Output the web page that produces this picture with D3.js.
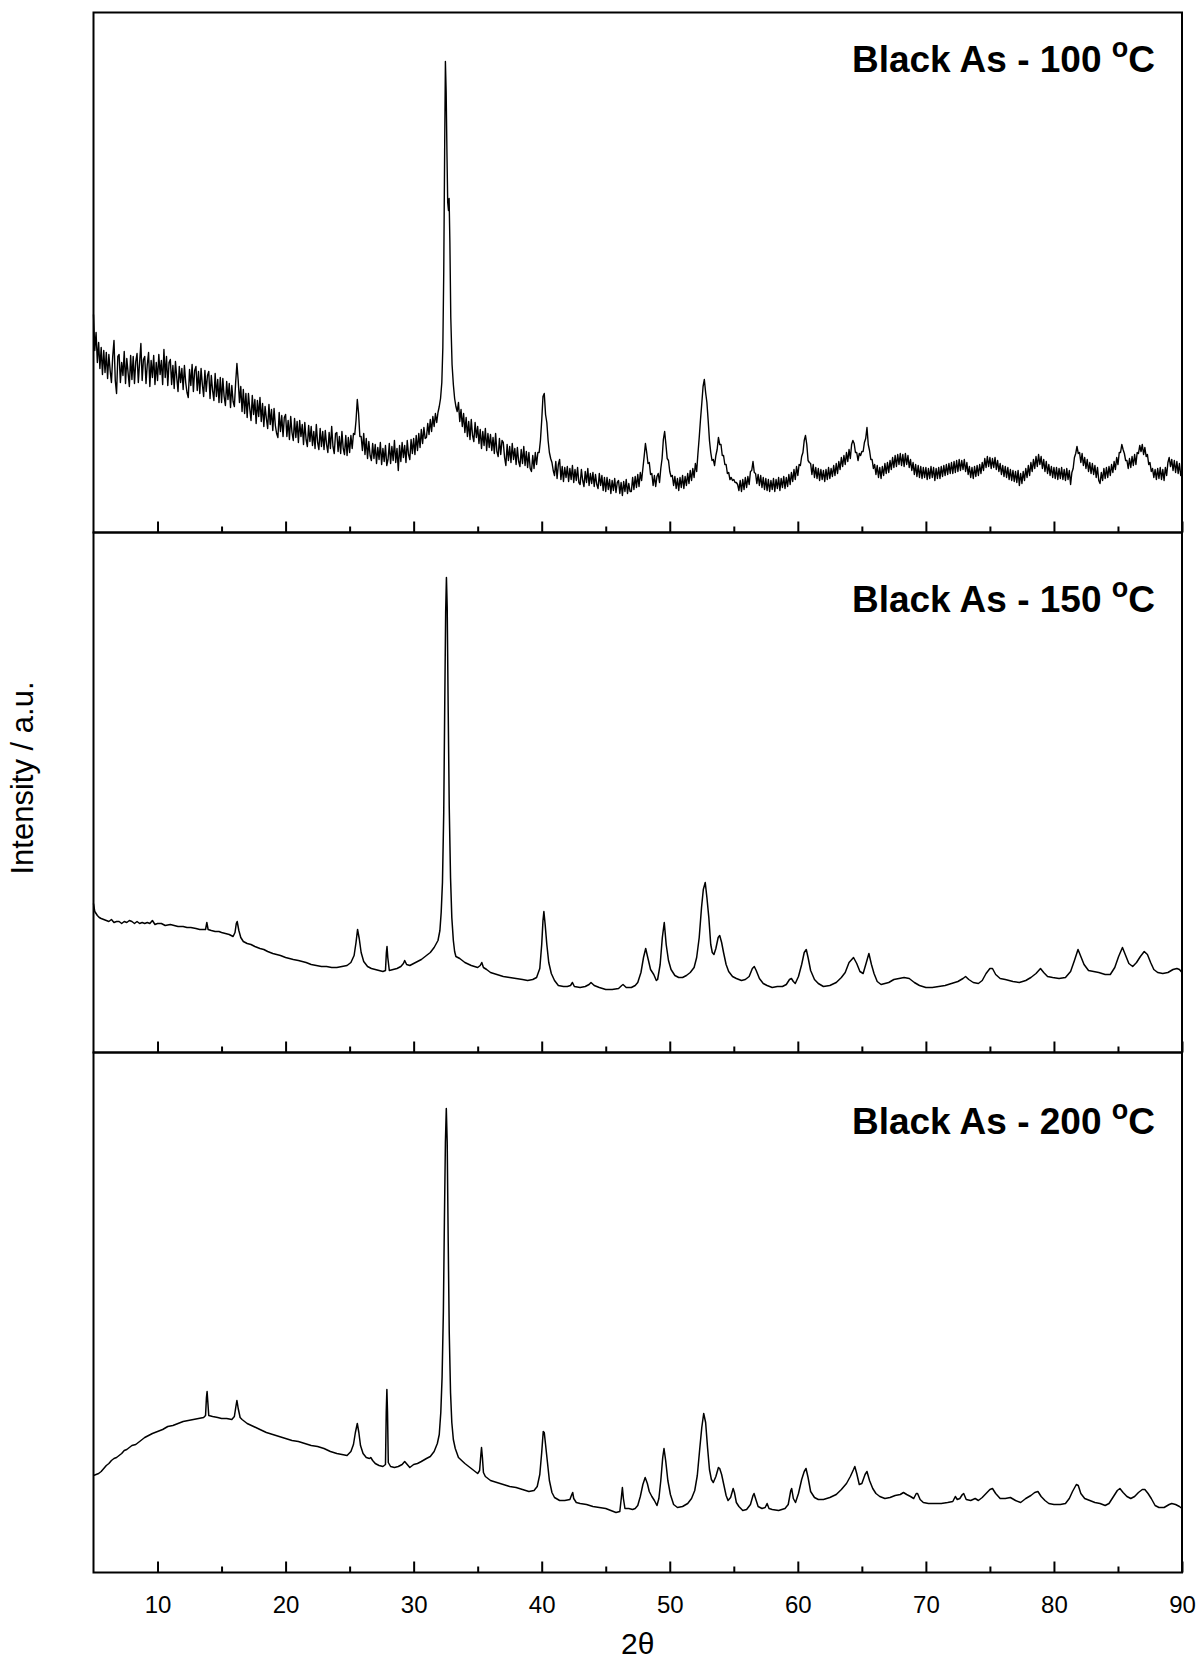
<!DOCTYPE html>
<html><head><meta charset="utf-8">
<script src="https://cdn.jsdelivr.net/npm/d3@7"></script>
<style>body{margin:0;background:#fff} svg{display:block}</style>
</head><body><svg id="c" width="1201" height="1662"></svg>
<script>
const xTicks = [10,20,30,40,50,60,70,80,90];
const xMinorTicks = [15,25,35,45,55,65,75,85];
const tickLabels = ["10","20","30","40","50","60","70","80","90"];
const temps = ["100","150","200"];

// Black As - 100 °C : 0.1° grid from 5.0 to 46.9
const p100aStart = 5, p100aStep = 0.1;
const p100a = [
218,182,200,170,190,164,185,158,182,160,
180,154,178,162,150,176,192,152,139,176,
178,150,170,157,181,149,174,160,146,177,
153,176,149,171,179,150,170,189,152,173,
176,149,168,180,146,172,155,177,148,170,
152,178,158,172,148,183,155,176,147,170,
173,148,167,144,171,155,141,166,150,164,
143,167,150,140,135,163,147,168,141,162,
166,142,161,139,164,148,136,162,141,157,
161,134,157,142,132,159,136,153,130,155,
130,154,136,127,151,133,149,125,147,131,
126,150,169,152,130,146,121,143,119,139,
115,139,124,112,137,118,133,109,132,116,
135,111,129,106,126,114,104,128,108,123,
102,124,107,99,95,120,101,117,96,115,
118,96,112,93,116,100,92,114,95,111,
90,112,96,108,88,110,93,86,107,91,
106,87,101,84,108,90,83,104,86,101,
83,102,88,80,100,84,106,86,79,99,
100,81,96,79,101,84,78,97,77,95,
80,97,84,99,98,112,133,119,96,96,
82,99,78,94,74,91,77,72,89,74,
88,69,85,73,90,68,84,71,87,67,
73,89,69,86,72,92,70,84,62,87,
71,90,75,87,70,92,78,73,93,79,
94,78,97,82,99,85,103,89,105,94,
95,109,98,113,101,116,106,119,110,120,
126,134,150,260,471,380,330,334,215,168,
168,148,134,126,121,130,111,123,106,119,
100,115,96,111,93,113,97,91,110,95,
106,89,103,84,101,87,104,82,99,85,
98,82,95,79,99,81,76,94,78,92,
90,75,67,88,72,86,70,89,73,84,
68,85,71,66,83,69,86,67,81,65,
80,64,61,77,64,80,68,80,80,92,
112,136,139,118,110,92,80,74,70,62,
57,71,54,68,73,53,66,51,65,55,
66,51,64,53,67,50,63,52,65,50,
48,63,52,46,61,50,64,47,59,49,
60,46,58,48,44,59,47,57,42,55,
41,55,43,53,39,52,42,54,40,50,
52,39,50,37,51,41,53,39,49,41
];
// Black As - 100 °C : 0.1° grid from 47.0 to 90.0
const p100bStart = 47, p100bStep = 0.1;
const p100b = [
41,55,43,56,45,58,46,60,52,64,
76,89,80,69,70,58,59,47,57,46,
56,59,50,64,74,93,101,88,74,72,
61,56,57,47,56,44,54,42,55,45,
57,44,56,47,59,49,62,52,64,55,
69,61,79,95,113,129,146,153,140,130,
112,92,80,72,73,67,77,83,95,88,
88,77,77,68,68,59,60,53,55,52,
53,50,50,48,42,52,41,53,43,55,
45,56,48,61,62,71,60,59,49,58,
47,57,45,55,43,54,42,53,41,52,
43,54,41,53,44,55,42,54,45,56,
44,55,46,58,48,60,51,63,53,66,
57,68,67,76,80,92,97,88,72,70,
69,58,68,55,65,54,64,52,63,53,
62,51,63,53,65,54,64,56,67,57,
69,59,71,63,75,66,77,68,80,71,
83,74,88,92,89,80,80,72,79,77,
81,81,90,94,105,88,82,73,73,64,
68,58,67,55,65,54,66,57,69,59,
70,60,72,63,75,65,77,66,78,68,
79,67,78,66,79,68,77,65,73,62,
70,58,68,56,67,55,66,54,65,55,
65,53,64,54,66,55,65,52,64,54,
65,54,66,56,67,57,68,58,69,59,
70,59,71,60,72,61,73,62,72,63,
73,61,70,58,66,55,65,54,66,56,
67,57,68,59,70,62,74,65,76,66,
75,64,74,65,75,63,72,61,69,58,
67,56,66,55,65,53,63,52,62,51,
61,50,62,47,59,49,61,52,64,55,
67,57,70,61,73,64,76,66,78,68,
76,64,73,61,71,59,68,57,66,55,
65,54,65,53,64,54,65,53,63,52,
64,53,62,48,60,64,75,79,86,79,
80,70,79,67,75,64,73,61,70,59,
69,58,67,55,65,52,49,60,52,64,
54,65,55,66,57,68,60,71,63,75,
68,80,80,88,83,79,72,72,64,74,
65,76,67,78,68,80,79,87,81,88,
78,85,76,78,68,70,61,64,55,63,
53,64,54,65,53,63,52,65,57,70,
75,66,73,62,72,60,71,59,69,57,
62
];
// finer reading of the main reflection (replaces grid in 31.9–33.3)
const p100Peak = [[31.9,120],[32.0,126],[32.1,134],[32.2,150],[32.28,185],[32.35,260],[32.42,380],[32.48,471],[32.54,440],[32.6,380],[32.66,330],[32.72,322],[32.77,334],[32.83,290],[32.9,215],[33.0,168],[33.1,148],[33.2,134],[33.3,126]];

const p150 = [
[5.0,149],[5.1,141],[5.2,139],[5.3,137],[5.45,135],[5.6,134],[5.8,133],[6.0,132],[6.2,131],[6.4,133],[6.6,130],[6.8,131],[7.0,131],[7.2,129],[7.4,131],[7.6,130],[7.8,132],[8.0,131],[8.2,129],[8.4,131],[8.6,129],[8.8,130],[9.0,129],[9.2,130],[9.4,129],[9.6,132],[9.8,128],[10.0,129],[10.3,129],[10.6,127],[11.0,128],[11.3,127],[11.6,126],[12.0,126],[12.3,125],[12.6,125],[13.0,124],[13.3,123],[13.6,123],[13.75,123],[13.85,130],[13.95,123],[14.2,122],[14.5,121],[14.8,121],[15.0,120],[15.3,119],[15.6,118],[15.9,116],[16.05,120],[16.15,129],[16.22,131],[16.35,122],[16.5,115],[16.7,111],[17.0,109],[17.3,108],[17.6,106],[18.0,104],[18.3,103],[18.6,101],[19.0,99],[19.3,98],[19.6,97],[20.0,95],[20.3,94],[20.6,93],[21.0,92],[21.3,91],[21.6,90],[22.0,88],[22.4,87],[22.8,86],[23.2,86],[23.6,85],[24.0,85],[24.4,86],[24.8,87],[25.1,90],[25.35,97],[25.5,110],[25.62,123],[25.75,114],[25.9,100],[26.1,91],[26.4,86],[26.7,84],[27.0,83],[27.3,82],[27.6,81],[27.8,82],[27.87,100],[27.92,106],[27.98,95],[28.1,82],[28.4,83],[28.7,84],[29.0,86],[29.2,89],[29.3,92],[29.45,88],[29.7,87],[30.0,89],[30.3,91],[30.6,93],[31.0,97],[31.3,100],[31.6,105],[31.9,112],
[32.05,122],[32.15,140],[32.25,170],[32.35,240],[32.43,350],[32.5,440],[32.56,475],[32.62,445],[32.7,340],[32.78,245],[32.88,175],[32.98,135],[33.1,112],[33.2,101],
[33.3,96],[33.6,94],[34.0,90],[34.5,87],[35.0,85],[35.2,87],[35.32,90],[35.45,85],[35.7,83],[36.0,80],[36.5,78],[37.0,76],[37.5,75],[38.0,74],[38.5,73],[38.9,72],[39.3,73],[39.6,75],[39.85,84],[40.0,108],[40.1,132],[40.17,141],[40.27,128],[40.4,108],[40.55,90],[40.75,79],[41.0,72],[41.3,67],[41.7,66],[42.0,66],[42.25,67],[42.4,70],[42.55,66],[43.0,65],[43.4,66],[43.7,68],[43.85,70],[44.1,67],[44.5,65],[45.0,63],[45.5,63],[46.0,64],[46.25,67],[46.35,68],[46.6,65],[47.0,65],[47.3,67],
[47.5,70],[47.75,80],[47.95,95],[48.12,104],[48.3,94],[48.5,83],[48.75,78],[48.95,72],[49.05,73],[49.25,88],[49.42,115],[49.57,130],[49.72,108],[49.9,92],[50.1,83],[50.4,77],[50.7,75],[51.0,75],[51.3,77],[51.6,80],[51.9,85],[52.1,95],[52.3,115],[52.48,145],[52.62,163],[52.77,170],[52.9,155],[53.05,135],[53.2,108],[53.32,100],[53.45,98],[53.6,104],[53.78,115],[53.9,117],[54.05,110],[54.2,100],[54.4,88],[54.6,81],[54.9,76],[55.2,74],[55.6,72],[55.9,73],[56.2,76],[56.45,84],[56.6,86],[56.75,82],[57.0,74],[57.3,69],[57.6,67],[58.0,65],[58.4,66],[58.8,66],[59.1,68],[59.35,73],[59.5,74],[59.65,71],[59.8,69],[60.05,76],[60.3,88],[60.5,100],[60.66,103],[60.8,95],[61.0,82],[61.3,73],[61.6,69],[62.0,66],[62.5,67],[63.0,70],[63.4,75],[63.7,80],[64.0,90],[64.35,95],[64.6,89],[64.85,81],[65.1,79],[65.35,90],[65.55,99],[65.75,88],[65.95,79],[66.2,71],[66.5,68],[66.8,69],[67.1,70],[67.5,73],[67.9,74],[68.3,75],[68.7,74],[69.1,70],[69.5,67],[70.0,65],[70.5,65],[71.0,66],[71.5,67],[72.0,69],[72.5,71],[72.9,74],[73.1,76],[73.35,73],[73.7,70],[74.1,69],[74.4,72],[74.7,79],[75.0,84],[75.2,84],[75.45,78],[75.8,74],[76.2,73],[76.8,71],[77.3,70],[77.8,72],[78.2,75],[78.6,79],[78.95,84],[79.2,80],[79.5,76],[79.9,75],[80.4,74],[80.9,75],[81.3,81],[81.6,92],[81.88,103],[82.1,96],[82.35,88],[82.7,82],[83.1,81],[83.5,80],[84.0,78],[84.4,78],[84.75,85],[85.05,96],[85.35,105],[85.6,97],[85.85,89],[86.15,86],[86.45,90],[86.75,96],[87.05,101],[87.3,98],[87.55,90],[87.8,83],[88.1,80],[88.5,79],[88.9,80],[89.3,83],[89.6,84],[89.8,83],[90.0,80]
];

const p200 = [
[5.0,97],[5.2,98],[5.4,99],[5.6,101],[5.8,104],[6.0,107],[6.2,109],[6.4,112],[6.6,114],[6.8,115],[7.0,117],[7.2,119],[7.4,122],[7.6,123],[7.8,125],[8.0,127],[8.3,128],[8.6,131],[9.0,135],[9.3,137],[9.6,139],[10.0,141],[10.4,143],[10.8,146],[11.2,147],[11.6,149],[12.0,151],[12.4,152],[12.8,153],[13.2,154],[13.6,155],[13.75,157],[13.82,175],[13.87,181],[13.93,170],[14.0,157],[14.3,156],[14.7,155],[15.0,154],[15.4,154],[15.8,153],[16.0,156],[16.12,166],[16.2,172],[16.3,164],[16.45,155],[16.6,153],[17.0,149],[17.5,146],[18.0,143],[18.5,140],[19.0,138],[19.5,136],[20.0,134],[20.5,132],[21.0,131],[21.5,129],[22.0,127],[22.5,126],[23.0,124],[23.5,121],[24.0,119],[24.4,118],[24.8,117],[25.1,121],[25.3,128],[25.45,140],[25.6,149],[25.72,140],[25.85,127],[26.05,119],[26.3,115],[26.55,114],[26.65,115],[26.8,112],[27.0,109],[27.3,107],[27.6,106],[27.8,108],[27.86,160],[27.91,183],[27.96,160],[28.02,110],[28.2,106],[28.5,105],[28.8,106],[29.1,108],[29.3,111],[29.5,108],[29.7,105],[30.0,108],[30.3,109],[30.6,111],[31.0,114],[31.3,116],[31.6,121],[31.85,129],
[32.0,138],[32.12,160],[32.22,195],[32.32,260],[32.4,350],[32.48,430],[32.55,464],[32.62,430],[32.7,330],[32.78,240],[32.88,180],[32.98,150],[33.1,133],[33.25,124],
[33.5,115],[34.0,109],[34.5,104],[35.0,99],[35.15,102],[35.25,118],[35.3,125],[35.37,115],[35.45,100],[35.6,96],[36.0,92],[36.5,90],[37.0,88],[37.5,86],[38.0,85],[38.5,83],[39.0,81],[39.4,82],[39.65,86],[39.85,98],[40.0,120],[40.12,141],[40.2,140],[40.3,128],[40.45,110],[40.6,92],[40.8,80],[41.0,75],[41.4,72],[41.8,72],[42.2,73],[42.35,78],[42.42,80],[42.5,74],[42.7,70],[43.0,69],[43.5,68],[44.0,66],[44.5,65],[45.0,64],[45.4,62],[45.8,60],[46.1,61],[46.22,75],[46.3,85],[46.38,74],[46.5,64],[46.8,64],[47.1,63],[47.3,64],
[47.5,67],[47.7,76],[47.9,88],[48.08,95],[48.25,89],[48.4,81],[48.6,76],[48.8,72],[49.0,67],[49.15,74],[49.3,92],[49.45,115],[49.55,124],[49.68,112],[49.85,92],[50.05,78],[50.3,68],[50.6,65],[51.0,66],[51.4,69],[51.7,74],[51.95,82],[52.15,97],[52.35,125],[52.5,145],[52.65,159],[52.8,150],[52.95,125],[53.1,103],[53.25,93],[53.4,90],[53.6,96],[53.8,105],[53.9,104],[54.05,98],[54.2,89],[54.4,77],[54.55,72],[54.75,75],[54.95,84],[55.05,80],[55.2,70],[55.4,66],[55.7,62],[56.0,63],[56.3,68],[56.5,77],[56.58,79],[56.7,74],[56.9,66],[57.2,64],[57.45,65],[57.6,69],[57.75,64],[58.0,63],[58.5,62],[59.0,64],[59.25,68],[59.45,82],[59.52,84],[59.65,74],[59.82,70],[60.05,79],[60.3,93],[60.5,101],[60.64,104],[60.8,95],[61.0,81],[61.3,75],[61.6,73],[62.0,73],[62.5,75],[63.0,78],[63.4,83],[63.8,89],[64.1,96],[64.35,103],[64.45,106],[64.6,99],[64.8,88],[65.0,89],[65.25,98],[65.4,101],[65.6,92],[65.85,84],[66.1,79],[66.4,76],[66.8,74],[67.2,75],[67.6,77],[68.0,78],[68.25,80],[68.5,78],[68.8,76],[69.05,74],[69.25,79],[69.35,79],[69.55,73],[69.8,70],[70.2,69],[70.7,69],[71.2,69],[71.7,70],[72.1,71],[72.3,76],[72.45,73],[72.65,74],[72.85,78],[72.95,79],[73.15,73],[73.5,72],[73.85,74],[74.1,72],[74.4,75],[74.7,79],[75.0,83],[75.2,84],[75.45,79],[75.8,74],[76.2,74],[76.6,75],[77.0,72],[77.4,70],[77.8,74],[78.2,77],[78.5,80],[78.75,81],[79.0,76],[79.3,72],[79.6,69],[80.0,68],[80.5,68],[80.9,69],[81.2,74],[81.45,81],[81.75,88],[81.9,87],[82.1,79],[82.4,74],[82.8,72],[83.2,70],[83.6,69],[84.0,67],[84.3,69],[84.6,75],[84.95,82],[85.15,84],[85.4,80],[85.7,76],[86.0,74],[86.3,76],[86.6,80],[86.9,83],[87.1,83],[87.35,79],[87.6,74],[87.9,67],[88.2,65],[88.6,65],[89.0,68],[89.2,69],[89.5,68],[89.8,66],[90.0,64]
];

const FONT = "Arial, 'Liberation Sans', Helvetica, sans-serif";
const L = 93.5, R = 1182, TOP = 12.5, PH = 520;
const svg = d3.select("#c");
const x = d3.scaleLinear().domain([5, 90]).range([L, R]);

const gridA = p100a.map((v, i) => [+(p100aStart + i * p100aStep).toFixed(2), v]);
const gridB = p100b.map((v, i) => [+(p100bStart + i * p100bStep).toFixed(2), v]);
const s100 = gridA.concat(gridB)
  .filter(d => d[0] < 31.9 || d[0] > 33.3)
  .concat(p100Peak)
  .sort((a, b) => a[0] - b[0]);
const series = [s100, p150, p200];
const titleBase = [72, 612, 1134];

series.forEach((data, k) => {
  const t = TOP + k * PH, b = t + PH;
  const y = d3.scaleLinear().domain([0, 520]).range([b, t]);
  const g = svg.append("g");

  g.append("path").datum(data)
    .attr("d", d3.line().x(d => x(d[0])).y(d => y(d[1])))
    .attr("fill", "none").attr("stroke", "#000")
    .attr("stroke-width", k === 0 ? 1.4 : 1.5).attr("stroke-linejoin", "round");

  const major = d3.axisBottom(x).tickValues(xTicks).tickSizeInner(-11).tickSizeOuter(0)
    .tickPadding(23).tickFormat((d, i) => k === 2 ? tickLabels[i] : "");
  const ag = g.append("g").attr("transform", `translate(0,${b})`).call(major);
  ag.select(".domain").remove();
  ag.selectAll("line").attr("stroke", "#000").attr("stroke-width", 2);
  ag.selectAll("text").attr("font-family", FONT).attr("font-size", 24).attr("fill", "#000");

  const minor = d3.axisBottom(x).tickValues(xMinorTicks).tickSizeInner(-6).tickSizeOuter(0).tickFormat(() => "");
  const mg = g.append("g").attr("transform", `translate(0,${b})`).call(minor);
  mg.select(".domain").remove();
  mg.selectAll("line").attr("stroke", "#000").attr("stroke-width", 2);

  g.append("rect").attr("x", L).attr("y", t).attr("width", R - L).attr("height", PH)
    .attr("fill", "none").attr("stroke", "#000").attr("stroke-width", 2);

  const tt = g.append("text").attr("x", 1155).attr("y", titleBase[k])
    .attr("text-anchor", "end").attr("font-family", FONT).attr("font-weight", "bold")
    .attr("font-size", 37).attr("fill", "#000");
  tt.append("tspan").text(`Black As - ${temps[k]} `);
  tt.append("tspan").attr("font-size", 27).attr("dy", -15).text("o");
  tt.append("tspan").attr("dy", 15).text("C");
});

svg.append("text").attr("x", (L + R) / 2).attr("y", 1654).attr("text-anchor", "middle")
  .attr("font-family", FONT).attr("font-size", 30).attr("fill", "#000").text("2θ");

svg.append("text").attr("transform", `translate(33,778) rotate(-90)`)
  .attr("text-anchor", "middle").attr("font-family", FONT).attr("font-size", 31)
  .attr("fill", "#000").text("Intensity / a.u.");
</script></body></html>
